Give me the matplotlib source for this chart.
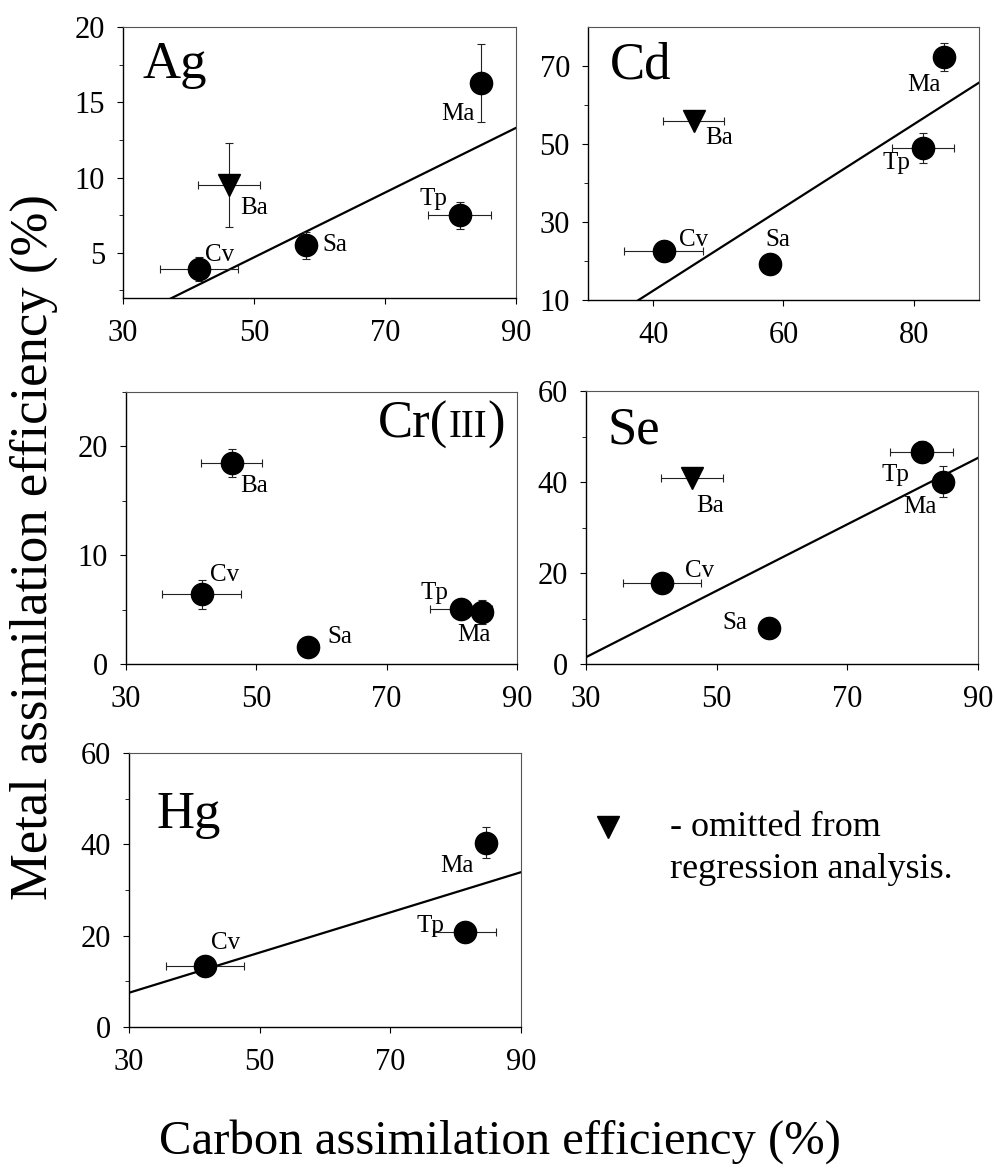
import matplotlib
matplotlib.use("Agg")
import matplotlib.pyplot as plt
import numpy as np

plt.rcParams['font.family'] = ['Liberation Serif', 'DejaVu Serif']

# ---- data ----
species = ['Cv', 'Ba', 'Sa', 'Tp', 'Ma']
carbon = [41.6, 46.2, 58.0, 81.4, 84.7]
carbon_err = [6.0, 4.7, 0.0, 4.8, 0.0]

ag = [3.9, 9.5, 5.5, 7.5, 16.3]
ag_err = [0.8, 2.8, 0.9, 0.9, 2.6]
cd = [22.5, 56.0, 19.3, 49.0, 72.3]
cd_err = [0.0, 0.0, 0.0, 3.8, 3.5]
cr = [6.4, 18.5, 1.6, 5.1, 4.8]
cr_err = [1.3, 1.3, 0.0, 0.0, 1.1]
se = [17.8, 40.8, 8.0, 46.7, 40.1]
se_err = [0.0, 0.0, 0.0, 2.4, 3.4]

hg_species = ['Cv', 'Tp', 'Ma']
hg_carbon = [41.6, 81.4, 84.7]
hg_carbon_err = [6.0, 4.8, 0.0]
hg = [13.4, 20.8, 40.4]
hg_err = [0.5, 1.2, 3.4]

# regression (slope, intercept)
ag_fit = (0.215, -6.05)
cd_fit = (1.067, -30.3)
se_fit = (0.73, -20.4)
hg_fit = (0.44, -5.7)

W, H = 995, 1172
fig = plt.figure(figsize=(W / 100, H / 100), dpi=100)


def make_ax(l, r, t, b):
    return fig.add_axes([l / W, 1 - b / H, (r - l) / W, (b - t) / H])


def style(ax, xlim, ylim, xt, yt, ymin):
    ax.set_xlim(*xlim)
    ax.set_ylim(*ylim)
    ax.set_xticks(xt)
    ax.set_yticks(yt)
    ax.set_yticks(ymin, minor=True)
    ax.tick_params(axis='both', which='major', direction='out', length=4,
                   width=0.8, labelsize=22)
    ax.tick_params(axis='x', which='major', pad=11)
    ax.tick_params(axis='y', which='major', pad=9)
    ax.tick_params(axis='y', which='minor', direction='out', length=3, width=0.6)
    for s in ['left', 'bottom']:
        ax.spines[s].set_linewidth(1.0)
    for s in ['top', 'right']:
        ax.spines[s].set_linewidth(0.8)
        ax.spines[s].set_color('#555555')


PX = 0.72  # px -> pt


def draw(ax, names, xs, xe, ys, ye, omitted, offsets):
    for n, x, dx, y, dy in zip(names, xs, xe, ys, ye):
        mk = 'v' if n in omitted else 'o'
        ax.errorbar(x, y, xerr=dx if dx else None, yerr=dy if dy else None,
                    fmt='none', ecolor='#222222', elinewidth=0.8, capsize=3,
                    capthick=0.8, zorder=2)
        ax.plot(x, y, marker=mk, ms=16, color='black', ls='none', zorder=3)
        ox, oy = offsets[n]
        ax.annotate(n, (x, y), xytext=(ox * PX, oy * PX), textcoords='offset points',
                    ha='center', va='center', fontsize=18)


def fit_line(ax, fit, xlim):
    xx = np.array(xlim, dtype=float)
    ax.plot(xx, fit[0] * xx + fit[1], color='black', lw=1.6, zorder=1)


# Ag
ax = make_ax(123, 516, 27, 298)
style(ax, (30, 90), (2, 20), [30, 50, 70, 90], [5, 10, 15, 20], [2.5, 7.5, 12.5, 17.5])
fit_line(ax, ag_fit, (30, 90))
draw(ax, species, carbon, carbon_err, ag, ag_err, ['Ba'],
     {'Cv': (21, 14), 'Ba': (25, -23), 'Sa': (28, 0), 'Tp': (-26, 16), 'Ma': (-23, -31)})
ax.text(0.05, 0.86, 'Ag', transform=ax.transAxes, fontsize=38, ha='left', va='center')

# Cd
ax = make_ax(588, 979, 27, 300)
style(ax, (30, 90), (10, 80), [40, 60, 80], [10, 30, 50, 70], [20, 40, 60])
fit_line(ax, cd_fit, (30, 90))
draw(ax, species, carbon, carbon_err, cd, cd_err, ['Ba'],
     {'Cv': (30, 11), 'Ba': (26, -17), 'Sa': (7, 24), 'Tp': (-27, -15), 'Ma': (-21, -28)})
ax.text(0.056, 0.86, 'Cd', transform=ax.transAxes, fontsize=38, ha='left', va='center')

# Cr(III)
ax = make_ax(126, 517, 392, 664)
style(ax, (30, 90), (0, 25), [30, 50, 70, 90], [0, 10, 20], [5, 15, 25])
draw(ax, species, carbon, carbon_err, cr, cr_err, [],
     {'Cv': (23, 19), 'Ba': (23, -23), 'Sa': (31, 10), 'Tp': (-27, 16), 'Ma': (-9, -23)})
t1 = ax.text(0.645, 0.79, 'Cr(', transform=ax.transAxes, fontsize=38,
             ha='left', va='bottom')
t2 = ax.annotate('III', xy=(1, 0), xycoords=t1, xytext=(0, 2.5),
                 textcoords='offset points', fontsize=28, ha='left', va='bottom')
t3 = ax.annotate(')', xy=(1, 0), xycoords=t2, xytext=(0, -2.5),
                 textcoords='offset points', fontsize=38, ha='left', va='bottom')

# Se
ax = make_ax(586, 978, 391, 664)
style(ax, (30, 90), (0, 60), [30, 50, 70, 90], [0, 20, 40, 60], [10, 30, 50])
fit_line(ax, se_fit, (30, 90))
draw(ax, species, carbon, carbon_err, se, se_err, ['Ba'],
     {'Cv': (38, 12), 'Ba': (18, -28), 'Sa': (-34, 5), 'Tp': (-26, -23), 'Ma': (-23, -25)})
ax.text(0.056, 0.855, 'Se', transform=ax.transAxes, fontsize=38, ha='left', va='center')

# Hg
ax = make_ax(129, 521, 753, 1027)
style(ax, (30, 90), (0, 60), [30, 50, 70, 90], [0, 20, 40, 60], [10, 30, 50])
fit_line(ax, hg_fit, (30, 90))
draw(ax, hg_species, hg_carbon, hg_carbon_err, hg, hg_err, [],
     {'Cv': (21, 23), 'Tp': (-34, 6), 'Ma': (-29, -23)})
ax.text(0.07, 0.775, 'Hg', transform=ax.transAxes, fontsize=38, ha='left', va='center')

# legend note
fig.lines.append(plt.Line2D([608 / W], [1 - 827 / H], marker='v', ms=16, color='black',
                            ls='none', transform=fig.transFigure))
fig.text(670 / W, 1 - 827 / H, '- omitted from', fontsize=26, ha='left', va='center')
fig.text(670 / W, 1 - 869 / H, 'regression analysis.', fontsize=26, ha='left', va='center')

# axis titles
fig.text(34 / W, 1 - 547 / H, 'Metal assimilation efficiency (%)', rotation=90,
         fontsize=38, ha='center', va='center')
fig.text(500 / W, 1 - 1142 / H, 'Carbon assimilation efficiency (%)',
         fontsize=35, ha='center', va='center')

fig.savefig('out.png', dpi=100)
